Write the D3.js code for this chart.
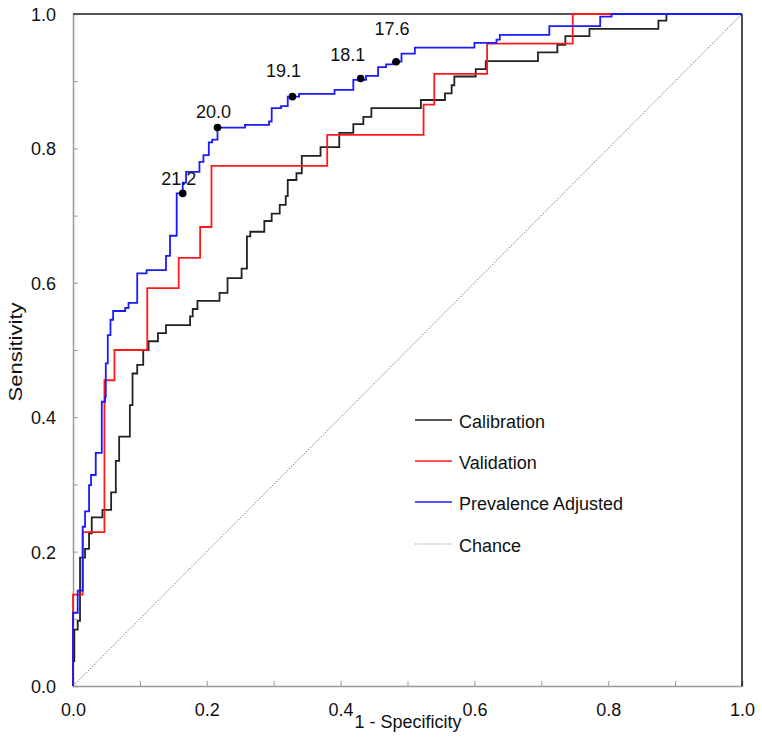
<!DOCTYPE html>
<html><head><meta charset="utf-8">
<script src="https://cdn.jsdelivr.net/npm/d3@7/dist/d3.min.js"></script>
<style>body{margin:0;background:#fff}svg text{font-family:"Liberation Sans",Arial,sans-serif}</style>
</head><body><svg id="c" width="762" height="748"></svg>
<script>
// ROC step vertices: [1 - Specificity, Sensitivity]
const calibration = [[0,0],[0,0.037],[0.002,0.084],[0.007,0.097],[0.0105,0.191],[0.018,0.204],[0.024,0.227],[0.028,0.251],[0.044,0.262],[0.057,0.288],[0.064,0.335],[0.069,0.371],[0.085,0.418],[0.089,0.465],[0.096,0.478],[0.105,0.5],[0.113,0.513],[0.127,0.525],[0.139,0.537],[0.175,0.55],[0.179,0.561],[0.186,0.573],[0.219,0.585],[0.231,0.607],[0.252,0.621],[0.26,0.669],[0.265,0.676],[0.286,0.692],[0.297,0.703],[0.309,0.716],[0.318,0.729],[0.321,0.753],[0.334,0.763],[0.342,0.789],[0.37,0.802],[0.398,0.823],[0.419,0.836],[0.434,0.847],[0.446,0.86],[0.52,0.872],[0.556,0.882],[0.566,0.894],[0.57,0.907],[0.602,0.918],[0.617,0.93],[0.695,0.943],[0.724,0.954],[0.736,0.967],[0.772,0.978],[0.875,0.99],[0.887,1.0],[1,1]];
const validation = [[0,0],[0,0.136],[0.0145,0.229],[0.047,0.455],[0.062,0.5],[0.111,0.592],[0.158,0.637],[0.19,0.683],[0.207,0.774],[0.38,0.82],[0.524,0.865],[0.54,0.911],[0.619,0.956],[0.747,1.0],[1,1]];
const prevalence = [[0,0],[0,0.109],[0.007,0.142],[0.0145,0.237],[0.018,0.26],[0.024,0.299],[0.027,0.314],[0.034,0.347],[0.043,0.423],[0.048,0.43],[0.049,0.48],[0.052,0.522],[0.056,0.545],[0.06,0.558],[0.078,0.5625],[0.083,0.57],[0.096,0.614],[0.11,0.619],[0.139,0.64],[0.145,0.67],[0.155,0.733],[0.164,0.749],[0.169,0.765],[0.189,0.78],[0.195,0.79],[0.203,0.809],[0.208,0.813],[0.216,0.831],[0.257,0.835],[0.293,0.84],[0.297,0.86],[0.311,0.863],[0.321,0.877],[0.338,0.881],[0.391,0.887],[0.419,0.902],[0.438,0.908],[0.456,0.921],[0.468,0.925],[0.478,0.929],[0.491,0.941],[0.511,0.95],[0.6,0.957],[0.633,0.962],[0.638,0.969],[0.712,0.982],[0.788,0.996],[0.805,1.0],[1,1]];
const chance = [[0,0],[1,1]];
const cutoffLabels = ["21.2","20.0","19.1","18.1","17.6"];
const cutoffFpr = [0.164,0.216,0.328,0.43,0.483];
const cutoffTpr = [0.733,0.831,0.877,0.904,0.929];
const legendNames = ["Calibration","Validation","Prevalence Adjusted","Chance"];
const tickVals = [0,0.1,0.2,0.3,0.4,0.5,0.6,0.7,0.8,0.9,1.0];

const L=73,T=14,W=669,H=672;
const svg=d3.select("#c");
const x=d3.scaleLinear().domain([0,1]).range([L,L+W]);
const y=d3.scaleLinear().domain([0,1]).range([T+H,T]);
const tickFmt=d=>(Math.round(d*10)%2===0)?d3.format(".1f")(d):"";

// axes
const gx=svg.append("g").attr("transform",`translate(0,${T+H})`)
  .call(d3.axisBottom(x).tickValues(tickVals).tickSize(-5).tickFormat(tickFmt));
const gy=svg.append("g").attr("transform",`translate(${L},0)`)
  .call(d3.axisLeft(y).tickValues(tickVals).tickSize(-5).tickFormat(tickFmt));
[gx,gy].forEach(g=>{
  g.select(".domain").attr("stroke","#999").attr("stroke-width",1.5);
  g.selectAll(".tick line").attr("stroke","#999");
  g.selectAll(".tick text").attr("fill","#111").style("font-size","18px");
});
gy.selectAll(".tick text").attr("x",-17).attr("dy","0.36em");
gx.selectAll(".tick text").attr("y",17).attr("dy","0.71em");
// top and right borders
svg.append("line").attr("x1",x(0)).attr("x2",x(1)).attr("y1",y(1)).attr("y2",y(1)).attr("stroke","#555").attr("stroke-width",2);
svg.append("line").attr("x1",x(1)).attr("x2",x(1)).attr("y1",y(1)).attr("y2",y(0)).attr("stroke","#111").attr("stroke-width",1.5);

// chance
const straight=d3.line().x(d=>x(d[0])).y(d=>y(d[1]));
svg.append("path").datum(chance).attr("d",straight).attr("fill","none").attr("stroke","#777").attr("stroke-width",1).attr("stroke-dasharray","1.5,1.5");

const step=d3.line().x(d=>x(d[0])).y(d=>y(d[1])).curve(d3.curveStepAfter);
const series=[[calibration,"#222"],[validation,"#ff1a1a"],[prevalence,"#1a1aff"]];
series.forEach(([data,col])=>{
  svg.append("path").datum(data).attr("d",step).attr("fill","none").attr("stroke",col).attr("stroke-width",1.8);
});

// cutoff points
const labelDx=[-4,-4,-9,-13,-4];
const labelDy=[-8,-10,-20,-18,-27];
cutoffFpr.forEach((f,i)=>{
  svg.append("circle").attr("cx",x(f)).attr("cy",y(cutoffTpr[i])).attr("r",3.8).attr("fill","#000");
  svg.append("text").attr("x",x(f)+labelDx[i]).attr("y",y(cutoffTpr[i])+labelDy[i])
    .attr("text-anchor","middle").style("font-size","18px").attr("fill","#111").text(cutoffLabels[i]);
});

// legend
const legCols=["#222","#ff1a1a","#1a1aff","#999"];
const legY=[420,461,502,544];
legendNames.forEach((n,i)=>{
  svg.append("line").attr("x1",415).attr("x2",452).attr("y1",legY[i]).attr("y2",legY[i])
    .attr("stroke",legCols[i]).attr("stroke-width",i===3?1:1.5).attr("stroke-dasharray",i===3?"1.5,1.5":null);
  svg.append("text").attr("x",459).attr("y",legY[i]+8).style("font-size","18px").attr("fill","#111").text(n);
});

// axis titles
svg.append("text").attr("x",408).attr("y",728).attr("text-anchor","middle").style("font-size","18px").attr("fill","#111").text("1 - Specificity");
svg.append("text").attr("transform","translate(22,352) rotate(-90)").attr("text-anchor","middle")
  .attr("textLength",99).attr("lengthAdjust","spacingAndGlyphs").style("font-size","18px").attr("fill","#111").text("Sensitivity");
</script></body></html>
